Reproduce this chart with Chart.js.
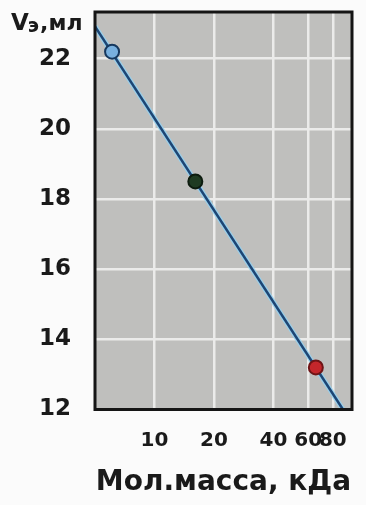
<!DOCTYPE html>
<html>
<head>
<meta charset="utf-8">
<script src="https://cdn.jsdelivr.net/npm/chart.js@4"></script>
<style>
  html, body { margin: 0; padding: 0; background: #fbfbfb; }
  #wrap { width: 366px; height: 505px; position: relative; }
</style>
</head>
<body>
<div id="wrap"><canvas id="chart"></canvas></div>
<script>
// elution volume vs molecular mass (log scale)
const massKDa = [6.1, 16.1, 65.6];
const elutionMl = [22.2, 18.5, 13.2];
const fitMass = [5, 90];
const fitVolume = [22.92, 12];
const xTickValues = [10, 20, 40, 60, 80];
const yTickValues = [12, 14, 16, 18, 20, 22];

const FONT = "'DejaVu Sans', sans-serif";
const pointFill = ['#78b0df', '#1f3b22', '#c4262b'];
const pointEdge = ['#16385e', '#0d1c0f', '#6e1416'];

function toXY(xs, ys) {
  return xs.map((x, i) => ({ x, y: ys[i] }));
}

const plotBg = {
  id: 'plotBg',
  beforeDraw(chart) {
    const { ctx, chartArea: a } = chart;
    ctx.save();
    ctx.fillStyle = '#fbfbfb';
    ctx.fillRect(0, 0, chart.width, chart.height);
    ctx.fillStyle = '#bfbfbd';
    ctx.fillRect(a.left, a.top, a.right - a.left, a.bottom - a.top);
    ctx.restore();
  },
  afterDraw(chart) {
    const { ctx, chartArea: a } = chart;
    ctx.save();
    ctx.strokeStyle = '#151515';
    ctx.lineWidth = 3;
    ctx.strokeRect(a.left, a.top, a.right - a.left, a.bottom - a.top);

    // y axis title with subscript
    ctx.fillStyle = '#1a1a1a';
    ctx.textBaseline = 'alphabetic';
    ctx.textAlign = 'left';
    let x = 11;
    ctx.font = `bold 23px ${FONT}`;
    ctx.fillText('V', x, 30);
    x += ctx.measureText('V').width - 1;
    ctx.font = `bold 19px ${FONT}`;
    ctx.fillText('э', x, 32);
    x += ctx.measureText('э').width + 1;
    ctx.font = `bold 22px ${FONT}`;
    ctx.fillText(',мл', x, 30);
    ctx.restore();
  }
};

new Chart(document.getElementById('chart'), {
  type: 'scatter',
  data: {
    datasets: [
      {
        data: toXY(fitMass, fitVolume),
        showLine: true,
        borderColor: 'rgba(150, 208, 238, 0.9)',
        borderWidth: 5,
        pointRadius: 0,
        order: 3
      },
      {
        data: toXY(fitMass, fitVolume),
        showLine: true,
        borderColor: '#1d4675',
        borderWidth: 2.5,
        pointRadius: 0,
        order: 2
      },
      {
        data: toXY(massKDa, elutionMl),
        backgroundColor: pointFill,
        borderColor: pointEdge,
        borderWidth: 2,
        pointRadius: 7,
        order: 1
      }
    ]
  },
  options: {
    responsive: true,
    maintainAspectRatio: false,
    animation: false,
    events: [],
    layout: { padding: { top: 12, right: 14, left: 0, bottom: 0 } },
    plugins: {
      legend: { display: false },
      tooltip: { enabled: false }
    },
    scales: {
      x: {
        type: 'logarithmic',
        min: 5,
        max: 100,
        afterBuildTicks: (scale) => {
          scale.ticks = xTickValues.map((value) => ({ value }));
        },
        afterFit: (scale) => {
          scale.height = 95.5;
          scale.paddingLeft = 0;
          scale.paddingRight = 0;
        },
        border: { display: false },
        grid: { color: '#ebebea', lineWidth: 2.5, drawTicks: false },
        ticks: {
          padding: 19,
          color: '#1a1a1a',
          font: { family: FONT, size: 20, weight: 'bold' },
          callback: (value) => String(value),
          maxRotation: 0,
          autoSkip: false
        },
        title: {
          display: true,
          text: 'Мол.масса, кДа',
          color: '#1a1a1a',
          font: { family: FONT, size: 28, weight: 'bold' },
          padding: { top: 0, bottom: 5 }
        }
      },
      y: {
        min: 12,
        max: 23.33,
        afterBuildTicks: (scale) => {
          scale.ticks = yTickValues.map((value) => ({ value }));
        },
        afterFit: (scale) => {
          scale.width = 95;
          scale.paddingTop = 0;
          scale.paddingBottom = 0;
        },
        border: { display: false },
        grid: {
          color: (ctx) => (ctx.tick && ctx.tick.value === 12 ? 'rgba(0,0,0,0)' : '#ebebea'),
          lineWidth: 2.5,
          drawTicks: false
        },
        ticks: {
          padding: 24,
          color: '#1a1a1a',
          font: { family: FONT, size: 23, weight: 'bold' },
          callback: (value) => String(value)
        }
      }
    }
  },
  plugins: [plotBg]
});
</script>
</body>
</html>
